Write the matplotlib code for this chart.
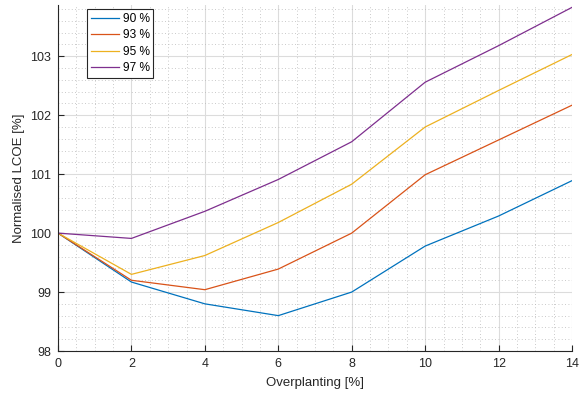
import numpy as np
import matplotlib
matplotlib.use("Agg")
import matplotlib.pyplot as plt
from matplotlib.ticker import MultipleLocator

plt.rcParams['font.family'] = ['Liberation Sans', 'DejaVu Sans']

# Datos
overplanting = [0, 2, 4, 6, 8, 10, 12, 14]
lcoe_90 = [100, 99.17, 98.80, 98.60, 99.00, 99.78, 100.29, 100.89]
lcoe_93 = [100, 99.20, 99.04, 99.39, 100.00, 100.99, 101.58, 102.17]
lcoe_95 = [100, 99.30, 99.62, 100.18, 100.83, 101.80, 102.42, 103.03]
lcoe_97 = [100, 99.91, 100.37, 100.91, 101.55, 102.56, 103.18, 103.83]
etiquetas = ['90 %', '93 %', '95 %', '97 %']
colores = ['#0072BD', '#D95319', '#EDB120', '#7E2F8E']

fig = plt.figure(figsize=(5.82, 3.94), dpi=100)
ax = fig.add_axes([58/582, 1 - 351/394, (572-58)/582, (351-5)/394])

for serie, etq, col in zip([lcoe_90, lcoe_93, lcoe_95, lcoe_97], etiquetas, colores):
    ax.plot(overplanting, serie, color=col, lw=0.9, label=etq)

ax.set_xlim(0, 14)
ax.set_ylim(98, 103.87)
ax.xaxis.set_major_locator(MultipleLocator(2))
ax.xaxis.set_minor_locator(MultipleLocator(0.5))
ax.yaxis.set_major_locator(MultipleLocator(1))
ax.yaxis.set_minor_locator(MultipleLocator(0.2))

# Rejilla estilo MATLAB
ax.grid(which='major', color='#dcdcdc', lw=0.8)
ax.grid(which='minor', color='#b8b8b8', lw=0.6, ls=(0, (1, 3)))
ax.set_axisbelow(True)

for s in ['top', 'right']:
    ax.spines[s].set_visible(False)
for s in ['left', 'bottom']:
    ax.spines[s].set_color('#262626')
    ax.spines[s].set_linewidth(0.8)
ax.tick_params(which='major', direction='in', length=4, width=0.8, colors='#262626',
               labelsize=9, pad=5)
ax.tick_params(which='minor', length=0)

ax.set_xlabel('Overplanting [%]', fontsize=9.5, color='#262626', labelpad=5)
ax.set_ylabel('Normalised LCOE [%]', fontsize=9.5, color='#262626', labelpad=4)

leg = ax.legend(loc='upper left', bbox_to_anchor=(0.0564, 0.988), borderaxespad=0,
                fontsize=8.6, fancybox=False, framealpha=1, edgecolor='#262626',
                handlelength=2.4, handletextpad=0.3, labelspacing=0.38,
                borderpad=0.3)
leg.get_frame().set_linewidth(0.8)

fig.savefig('out.png', dpi=100)
